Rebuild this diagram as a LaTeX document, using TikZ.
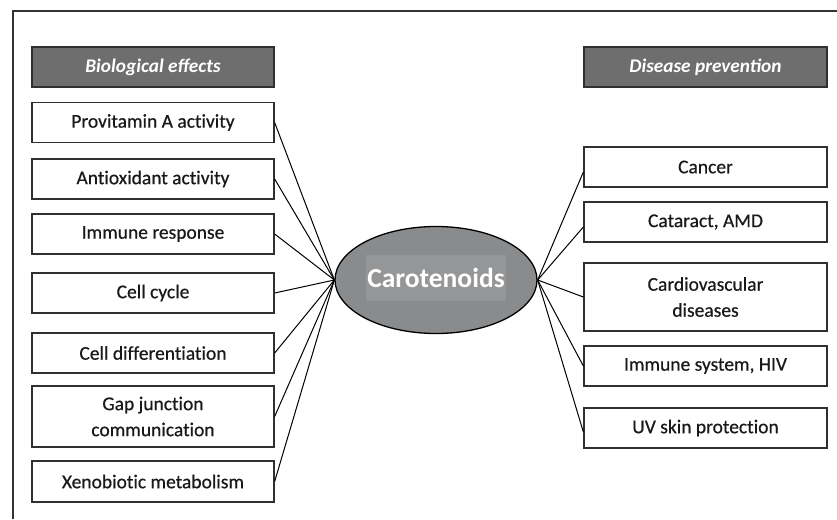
\documentclass[tikz,border=0pt]{standalone}
\usepackage{fontspec}
\setmainfont{Carlito}
\newfontfamily\itemfont{Carlito}[Ligatures=NoCommon, FakeBold=0.5]
\usetikzlibrary{shapes.geometric}
\definecolor{hdrfill}{HTML}{6E6E6E}
\definecolor{boxline}{HTML}{303030}
\definecolor{ellfill}{HTML}{8A8B8D}
\definecolor{labfill}{HTML}{959698}
\tikzset{
  itembox/.style={draw=boxline, line width=1.3pt, fill=white, minimum width=242pt, minimum height=40pt, inner sep=0pt, align=center, font=\itemfont\fontsize{19.5}{26}\selectfont, text=black!90},
  hdrbox/.style={draw=boxline, line width=1.3pt, fill=hdrfill, minimum width=242pt, minimum height=40pt, inner sep=0pt, align=center, font=\fontsize{19.3}{22}\selectfont\bfseries\itshape, text=white},
  conn/.style={draw=black, line width=1pt},
}
\begin{document}
\begin{tikzpicture}[x=1pt,y=-1pt]
\useasboundingbox (0,0) rectangle (837,519);
% frame
\draw[line width=1.4pt, draw=black!80] (13,519) -- (13,11) -- (837,11);
% centre
\node[ellipse, draw=black, line width=1.3pt, fill=ellfill, minimum width=202pt, minimum height=107pt, inner sep=0pt] (carot) at (436,280) {};
\node[fill=labfill, minimum width=140pt, minimum height=46pt, inner sep=0pt, text=white, font=\fontsize{27.5}{30}\selectfont\bfseries] (carotlab) at (436,278) {Carotenoids};
% left
\node[hdrbox] (bio) at (153,67) {Biological effects};
\node[itembox] (prov) at (153,122.5) {Provitamin A activity};
\node[itembox] (anti) at (153,179) {Antioxidant activity};
\node[itembox] (immr) at (153,234) {Immune response};
\node[itembox] (cyc) at (153,293) {Cell cycle};
\node[itembox] (diff) at (153,353) {Cell differentiation};
\node[itembox, minimum height=61pt] (gap) at (153,416.5) {Gap junction\\communication};
\node[itembox, minimum height=41pt] (xeno) at (153,481.5) {Xenobiotic metabolism};
% right
\node[hdrbox, minimum width=243pt] (dis) at (705.5,67) {Disease prevention};
\node[itembox, minimum width=243pt] (canc) at (705.5,167) {Cancer};
\node[itembox, minimum width=243pt] (cat) at (705.5,222) {Cataract, AMD};
\node[itembox, minimum width=243pt, minimum height=68pt] (card) at (705.5,297) {Cardiovascular\\diseases};
\node[itembox, minimum width=243pt] (immsys) at (705.5,366) {Immune system, HIV};
\node[itembox, minimum width=243pt] (uv) at (705.5,428) {UV skin protection};
% connectors
\foreach \n in {prov,anti,immr,cyc,diff,gap,xeno}
  \draw[conn] (\n.east) -- (carot.west);
\draw[conn] (carot.east) -- ([yshift=-5pt]canc.west);
\draw[conn] (carot.east) -- ([yshift=-5pt]cat.west);
\draw[conn] (carot.east) -- (card.west);
\draw[conn] (carot.east) -- (immsys.west);
\draw[conn] (carot.east) -- ([yshift=-4pt]uv.west);
\end{tikzpicture}
\end{document}
